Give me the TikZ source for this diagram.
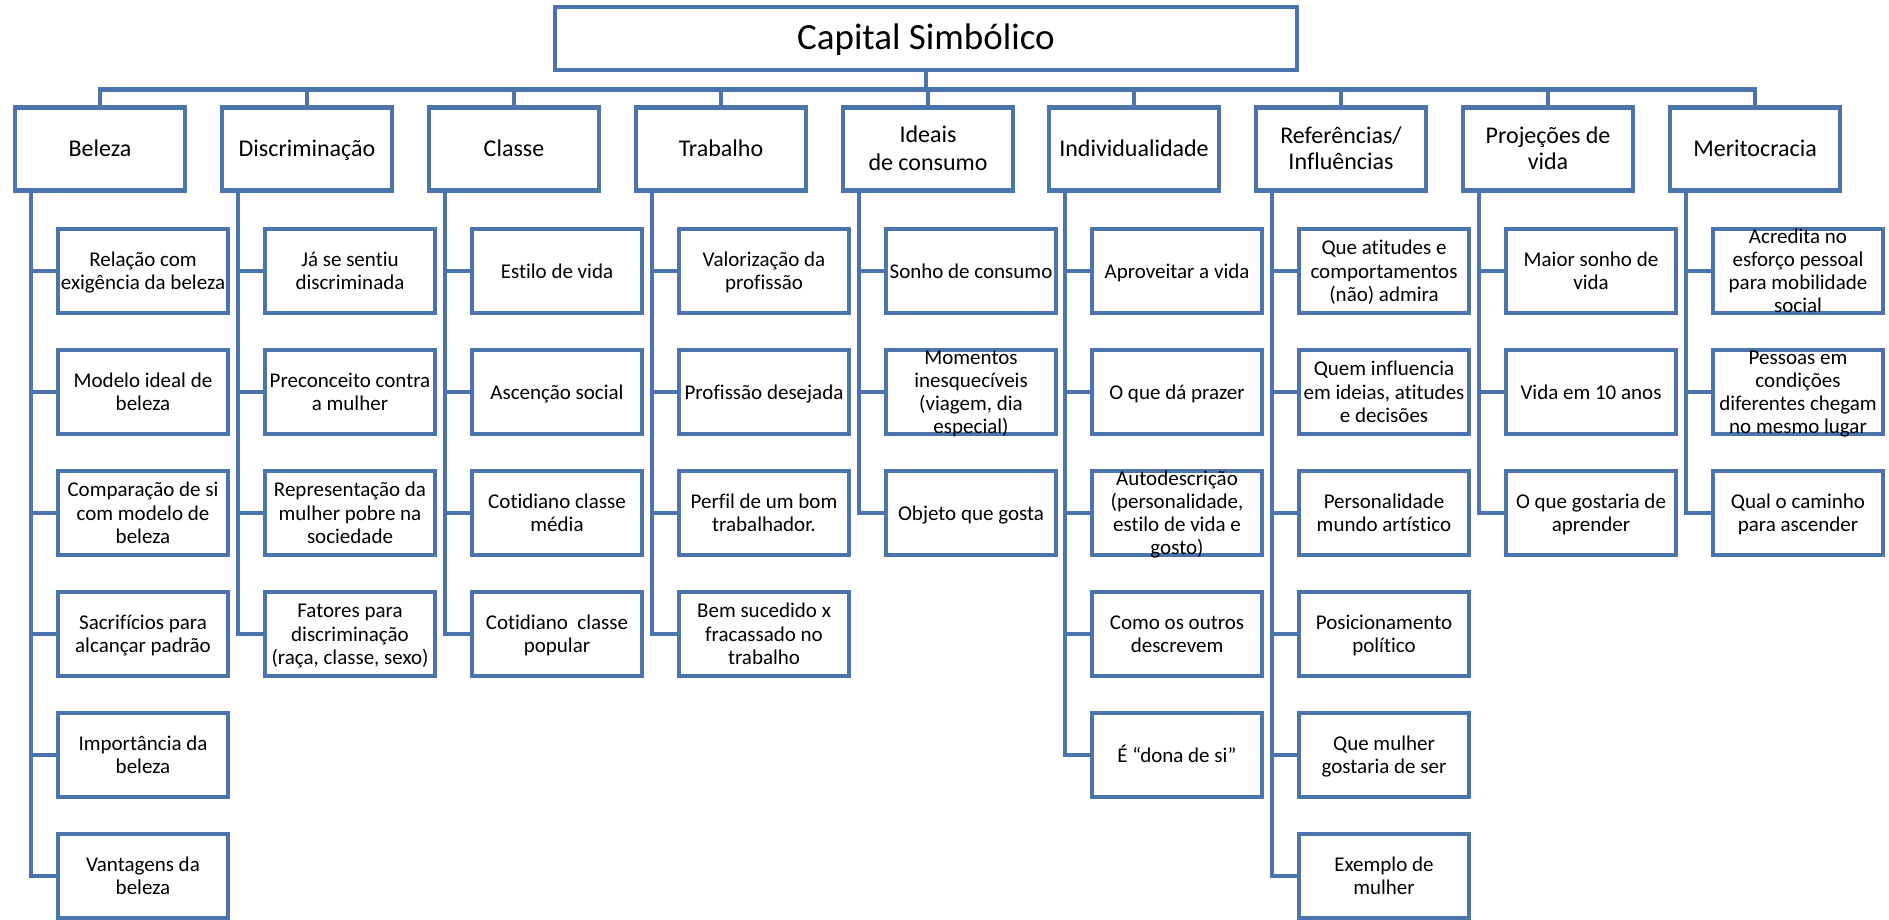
\documentclass[tikz,border=0pt]{standalone}
\usepackage{fontspec}
\setmainfont{Carlito}[Ligatures=NoCommon]
\usepackage{tikz}
\usetikzlibrary{positioning}
\definecolor{CapBlue}{HTML}{4A74AB}
% text centred in a box of fixed size, allowed to run over the border
\newcommand{\boxtext}[2][-0.36em]{\makebox[0pt]{\raisebox{#1}[0pt][0pt]{%
  \begin{tabular}{@{}c@{}}#2\end{tabular}}}}
\tikzset{
  rootbox/.style={draw=CapBlue,line width=4.5pt,fill=white,minimum width=742pt,
    minimum height=63pt,inner sep=0pt,font=\fontsize{37}{40}\selectfont},
  topicbox/.style={draw=CapBlue,line width=4.5pt,fill=white,
    minimum width=170pt,minimum height=83pt,inner sep=0pt,font=\fontsize{24}{26.4}\selectfont},
  itembox/.style={topicbox,minimum height=84pt,font=\fontsize{21}{23.3}\selectfont},
  branch/.style={draw=CapBlue,line width=4.5pt}
}

\begin{document}
\begin{tikzpicture}[x=1pt,y=-1pt]
  \useasboundingbox (0,0) rectangle (1889,920);
  \node[rootbox] (capital) at (926,38.5) {\boxtext[-0.25em]{Capital Simbólico}};
  \coordinate (bar) at (926,89.5);

  % first level
  \node[topicbox] (beleza) at (100,149) {\boxtext{Beleza}};
  \node[topicbox] (discrim) at (307,149) {\boxtext{Discriminação}};
  \node[topicbox] (classe) at (514,149) {\boxtext{Classe}};
  \node[topicbox] (trabalho) at (721,149) {\boxtext{Trabalho}};
  \node[topicbox] (ideais) at (928,149) {\boxtext{Ideais\\[2pt] de consumo}};
  \node[topicbox] (individ) at (1134,149) {\boxtext{Individualidade}};
  \node[topicbox] (refer) at (1341,149) {\boxtext{Referências/\\Influências}};
  \node[topicbox] (projec) at (1548,149) {\boxtext{Projeções de\\vida}};
  \node[topicbox] (merito) at (1755,149) {\boxtext{Meritocracia}};

  % Beleza
  \node[itembox] (bel1) at (143,271) {\boxtext{Relação com\\exigência da beleza}};
  \node[itembox] (bel2) at (143,392) {\boxtext{Modelo ideal de\\beleza}};
  \node[itembox] (bel3) at (143,513) {\boxtext{Comparação de si\\com modelo de\\beleza}};
  \node[itembox] (bel4) at (143,634) {\boxtext{Sacrifícios para\\alcançar padrão}};
  \node[itembox] (bel5) at (143,755) {\boxtext{Importância da\\beleza}};
  \node[itembox] (bel6) at (143,876) {\boxtext{Vantagens da\\beleza}};

  % Discriminacao
  \node[itembox] (dis1) at (350,271) {\boxtext{Já se sentiu\\discriminada}};
  \node[itembox] (dis2) at (350,392) {\boxtext{Preconceito contra\\a mulher}};
  \node[itembox] (dis3) at (350,513) {\boxtext{Representação da\\mulher pobre na\\sociedade}};
  \node[itembox] (dis4) at (350,634) {\boxtext{Fatores para\\discriminação\\(raça, classe, sexo)}};

  % Classe
  \node[itembox] (cla1) at (557,271) {\boxtext{Estilo de vida}};
  \node[itembox] (cla2) at (557,392) {\boxtext{Ascenção social}};
  \node[itembox] (cla3) at (557,513) {\boxtext{Cotidiano classe\\média}};
  \node[itembox] (cla4) at (557,634) {\boxtext{Cotidiano\ \ classe\\popular}};

  % Trabalho
  \node[itembox] (tra1) at (764,271) {\boxtext{Valorização da\\profissão}};
  \node[itembox] (tra2) at (764,392) {\boxtext{Profissão desejada}};
  \node[itembox] (tra3) at (764,513) {\boxtext{Perfil de um bom\\trabalhador.}};
  \node[itembox] (tra4) at (764,634) {\boxtext{Bem sucedido x\\fracassado no\\trabalho}};

  % Ideais de consumo
  \node[itembox] (ide1) at (971,271) {\boxtext{Sonho de consumo}};
  \node[itembox] (ide2) at (971,392) {\boxtext{Momentos\\inesquecíveis\\(viagem, dia\\especial)}};
  \node[itembox] (ide3) at (971,513) {\boxtext{Objeto que gosta}};

  % Individualidade
  \node[itembox] (ind1) at (1177,271) {\boxtext{Aproveitar a vida}};
  \node[itembox] (ind2) at (1177,392) {\boxtext{O que dá prazer}};
  \node[itembox] (ind3) at (1177,513) {\boxtext{Autodescrição\\(personalidade,\\estilo de vida e\\gosto)}};
  \node[itembox] (ind4) at (1177,634) {\boxtext{Como os outros\\descrevem}};
  \node[itembox] (ind5) at (1177,755) {\boxtext{É “dona de si”}};

  % Referencias
  \node[itembox] (ref1) at (1384,271) {\boxtext{Que atitudes e\\comportamentos\\(não) admira}};
  \node[itembox] (ref2) at (1384,392) {\boxtext{Quem influencia\\em ideias, atitudes\\e decisões}};
  \node[itembox] (ref3) at (1384,513) {\boxtext{Personalidade\\mundo artístico}};
  \node[itembox] (ref4) at (1384,634) {\boxtext{Posicionamento\\político}};
  \node[itembox] (ref5) at (1384,755) {\boxtext{Que mulher\\gostaria de ser}};
  \node[itembox] (ref6) at (1384,876) {\boxtext{Exemplo de\\mulher}};

  % Projecoes
  \node[itembox] (pro1) at (1591,271) {\boxtext{Maior sonho de\\vida}};
  \node[itembox] (pro2) at (1591,392) {\boxtext{Vida em 10 anos}};
  \node[itembox] (pro3) at (1591,513) {\boxtext{O que gostaria de\\aprender}};

  % Meritocracia
  \node[itembox] (mer1) at (1798,271) {\boxtext{Acredita no\\esforço pessoal\\para mobilidade\\social}};
  \node[itembox] (mer2) at (1798,392) {\boxtext{Pessoas em\\condições\\diferentes chegam\\no mesmo lugar}};
  \node[itembox] (mer3) at (1798,513) {\boxtext{Qual o caminho\\para ascender}};

  % connectors
  \draw[branch] (capital.south) -- (bar);
  \draw[branch] (bar) -| (beleza.north);
  \draw[branch] (bar) -| (discrim.north);
  \draw[branch] (bar) -| (classe.north);
  \draw[branch] (bar) -| (trabalho.north);
  \draw[branch] (bar) -| (ideais.north);
  \draw[branch] (bar) -| (individ.north);
  \draw[branch] (bar) -| (refer.north);
  \draw[branch] (bar) -| (projec.north);
  \draw[branch] (bar) -| (merito.north);

  \draw[branch] ([xshift=-69pt]beleza.south) |- (bel1.west);
  \draw[branch] ([xshift=-69pt]beleza.south) |- (bel2.west);
  \draw[branch] ([xshift=-69pt]beleza.south) |- (bel3.west);
  \draw[branch] ([xshift=-69pt]beleza.south) |- (bel4.west);
  \draw[branch] ([xshift=-69pt]beleza.south) |- (bel5.west);
  \draw[branch] ([xshift=-69pt]beleza.south) |- (bel6.west);

  \draw[branch] ([xshift=-69pt]discrim.south) |- (dis1.west);
  \draw[branch] ([xshift=-69pt]discrim.south) |- (dis2.west);
  \draw[branch] ([xshift=-69pt]discrim.south) |- (dis3.west);
  \draw[branch] ([xshift=-69pt]discrim.south) |- (dis4.west);

  \draw[branch] ([xshift=-69pt]classe.south) |- (cla1.west);
  \draw[branch] ([xshift=-69pt]classe.south) |- (cla2.west);
  \draw[branch] ([xshift=-69pt]classe.south) |- (cla3.west);
  \draw[branch] ([xshift=-69pt]classe.south) |- (cla4.west);

  \draw[branch] ([xshift=-69pt]trabalho.south) |- (tra1.west);
  \draw[branch] ([xshift=-69pt]trabalho.south) |- (tra2.west);
  \draw[branch] ([xshift=-69pt]trabalho.south) |- (tra3.west);
  \draw[branch] ([xshift=-69pt]trabalho.south) |- (tra4.west);

  \draw[branch] ([xshift=-69pt]ideais.south) |- (ide1.west);
  \draw[branch] ([xshift=-69pt]ideais.south) |- (ide2.west);
  \draw[branch] ([xshift=-69pt]ideais.south) |- (ide3.west);

  \draw[branch] ([xshift=-69pt]individ.south) |- (ind1.west);
  \draw[branch] ([xshift=-69pt]individ.south) |- (ind2.west);
  \draw[branch] ([xshift=-69pt]individ.south) |- (ind3.west);
  \draw[branch] ([xshift=-69pt]individ.south) |- (ind4.west);
  \draw[branch] ([xshift=-69pt]individ.south) |- (ind5.west);

  \draw[branch] ([xshift=-69pt]refer.south) |- (ref1.west);
  \draw[branch] ([xshift=-69pt]refer.south) |- (ref2.west);
  \draw[branch] ([xshift=-69pt]refer.south) |- (ref3.west);
  \draw[branch] ([xshift=-69pt]refer.south) |- (ref4.west);
  \draw[branch] ([xshift=-69pt]refer.south) |- (ref5.west);
  \draw[branch] ([xshift=-69pt]refer.south) |- (ref6.west);

  \draw[branch] ([xshift=-69pt]projec.south) |- (pro1.west);
  \draw[branch] ([xshift=-69pt]projec.south) |- (pro2.west);
  \draw[branch] ([xshift=-69pt]projec.south) |- (pro3.west);

  \draw[branch] ([xshift=-69pt]merito.south) |- (mer1.west);
  \draw[branch] ([xshift=-69pt]merito.south) |- (mer2.west);
  \draw[branch] ([xshift=-69pt]merito.south) |- (mer3.west);

\end{tikzpicture}
\end{document}
